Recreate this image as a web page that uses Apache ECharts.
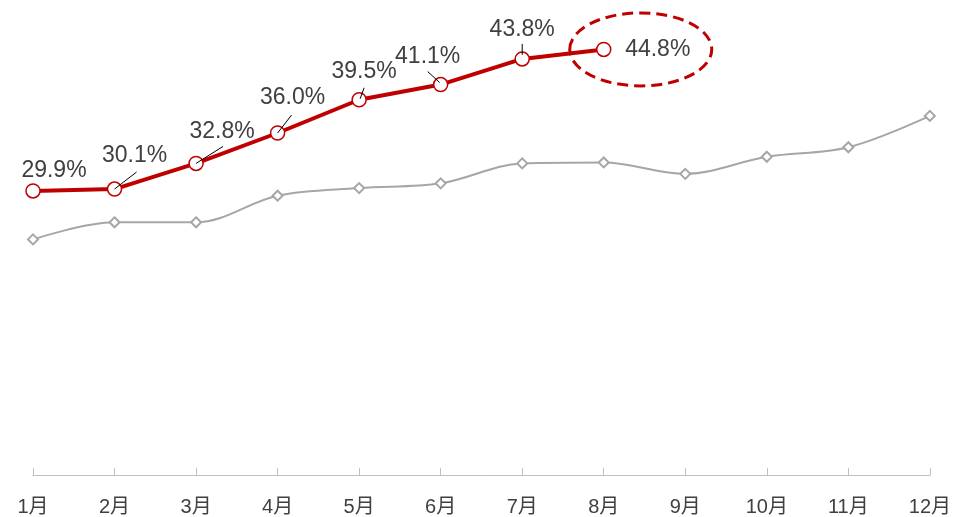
<!DOCTYPE html>
<html>
<head>
<meta charset="utf-8">
<script src="https://cdn.jsdelivr.net/npm/echarts@6/dist/echarts.min.js"></script>
<style>
  html, body { margin: 0; padding: 0; background: #fff; }
  #chart { width: 954px; height: 517px; }
</style>
</head>
<body>
<div id="chart"></div>
<script>
// 月份
const months = ['1月', '2月', '3月', '4月', '5月', '6月', '7月', '8月', '9月', '10月', '11月', '12月'];
// 今年（紅線）
const thisYear = [29.9, 30.1, 32.8, 36.0, 39.5, 41.1, 43.8, 44.8];
// 去年（灰線）
const lastYear = [24.8, 26.6, 26.6, 29.4, 30.2, 30.7, 32.8, 32.9, 31.7, 33.5, 34.5, 37.8];

// 標籤偏移與引線（像素）
const labelPos = [
  { dx: 21, dy: -20 },
  { dx: 20, dy: -33, line: [0, 0, 22, -17] },
  { dx: 26, dy: -32, line: [0, 0, 27, -17] },
  { dx: 15, dy: -35, line: [0, 0, 14, -18] },
  { dx: 5, dy: -28, line: [1, -1, 5, -12] },
  { dx: -13, dy: -28, line: [-1, -2, -13, -13] },
  { dx: 0, dy: -29, line: [0, -4, 0, -15] },
  { dx: 54, dy: 0 }
];

const RED = '#c00000';
const GRAY = '#a6a6a6';
const TEXT = '#404040';
const FONT = '"Liberation Sans", Arial, "Noto Sans CJK SC", sans-serif';

const chart = echarts.init(document.getElementById('chart'));

chart.setOption({
  animation: false,
  grid: { left: 33, right: 24, top: 0, bottom: 42 },
  xAxis: {
    type: 'category',
    data: months,
    boundaryGap: false,
    axisLine: { lineStyle: { color: '#bfbfbf', width: 1 } },
    axisTick: { inside: true, length: 7, lineStyle: { color: '#bfbfbf' } },
    axisLabel: { color: TEXT, fontSize: 20, margin: 22, fontFamily: FONT }
  },
  yAxis: {
    type: 'value',
    min: 0,
    max: 50,
    show: false,
    splitLine: { show: false }
  },
  series: [
    {
      name: '去年',
      type: 'line',
      data: lastYear,
      smooth: 0.35,
      symbol: 'diamond',
      symbolSize: 10,
      itemStyle: { color: '#fff', borderColor: GRAY, borderWidth: 2 },
      lineStyle: { color: GRAY, width: 2 },
      z: 2
    },
    {
      name: '今年',
      type: 'line',
      data: thisYear,
      symbol: 'circle',
      symbolSize: 14,
      itemStyle: { color: '#fff', borderColor: RED, borderWidth: 1.5 },
      lineStyle: { color: RED, width: 4 },
      z: 3
    },
    {
      // 數據標籤與引線
      type: 'custom',
      data: thisYear.map((v, i) => [i, v]),
      z: 5,
      silent: true,
      renderItem: function (params, api) {
        const i = params.dataIndex;
        const p = api.coord([api.value(0), api.value(1)]);
        const pos = labelPos[i];
        const children = [{
          type: 'text',
          x: p[0] + pos.dx,
          y: p[1] + pos.dy,
          style: {
            text: thisYear[i].toFixed(1) + '%',
            fill: TEXT,
            fontSize: 23,
            fontFamily: FONT,
            align: 'center',
            verticalAlign: 'middle'
          }
        }];
        if (pos.line) {
          children.push({
            type: 'line',
            shape: {
              x1: p[0] + pos.line[0], y1: p[1] + pos.line[1],
              x2: p[0] + pos.line[2], y2: p[1] + pos.line[3]
            },
            style: { stroke: '#000', lineWidth: 1 }
          });
        }
        return { type: 'group', children: children };
      }
    },
    {
      // 最新月份的虛線橢圓
      type: 'custom',
      data: [[thisYear.length - 1, thisYear[thisYear.length - 1]]],
      z: 6,
      silent: true,
      renderItem: function (params, api) {
        const p = api.coord([api.value(0), api.value(1)]);
        return {
          type: 'ellipse',
          shape: { cx: p[0] + 37, cy: p[1], rx: 71, ry: 36.5 },
          style: { fill: 'none', stroke: RED, lineWidth: 3, lineDash: [11, 6] }
        };
      }
    }
  ]
});
</script>
</body>
</html>
